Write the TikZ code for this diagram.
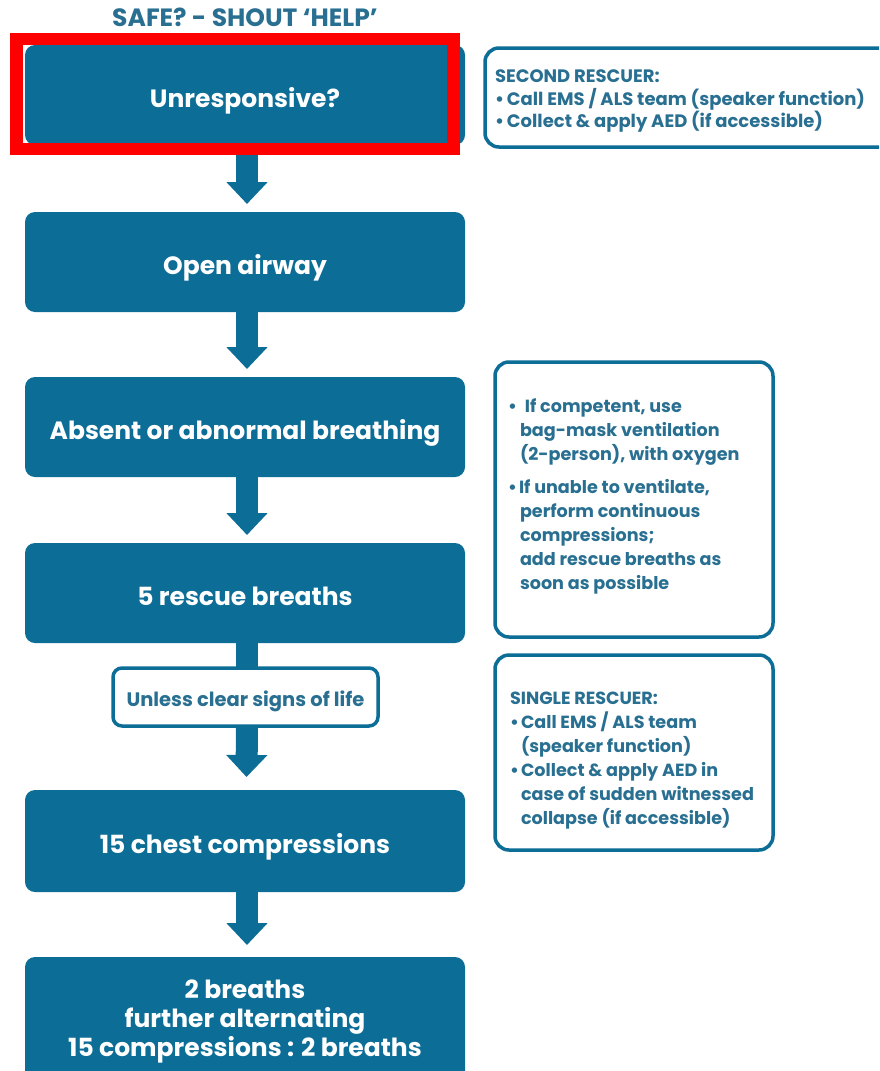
\documentclass[tikz,border=0pt]{standalone}
\usepackage{fontspec}
\setmainfont{Poppins}
\usetikzlibrary{arrows.meta,calc}
\definecolor{tealfill}{RGB}{12,109,150}
\definecolor{tealtxt}{RGB}{40,111,145}
\newcommand\bul[1]{\makebox[#1][l]{•}}
\newcommand\ind[1]{\hspace*{#1}}
\begin{document}
\begin{tikzpicture}[x=1pt,y=-1pt,
  every node/.style={outer sep=0pt},
  mainbox/.style={fill=tealfill, rounded corners=10pt, minimum width=440pt, minimum height=100pt,
    text=white, font=\bfseries\fontsize{25}{29}\selectfont, align=center, inner sep=0pt, anchor=north west},
  onelinetext/.style={text height=25pt, text depth=0pt},
  sidebox/.style={draw=tealfill, line width=3.5pt, rounded corners=14pt, fill=white, anchor=north west, inner sep=0pt},
  sidetext/.style={text=tealtxt, font=\bfseries\fontsize{17.6}{24}\selectfont, align=left, anchor=north west, inner sep=0pt},
  flowarrow/.style={draw=tealfill, line width=22pt, -{Triangle[width=40pt,length=22pt]}},
  stem/.style={draw=tealfill, line width=22pt},
]
\useasboundingbox (0,0) rectangle (879,1071);
\clip (0,0) rectangle (879,1071);

\node[text=tealtxt, font=\bfseries\fontsize{25}{28}\selectfont] (title) at (245,17) {SAFE? - SHOUT ‘HELP’};

\node[mainbox, onelinetext] (b1) at (25,45) {Unresponsive?};
\node[mainbox, onelinetext] (b2) at (25,212) {Open airway};
\node[mainbox, onelinetext] (b3) at (25,377) {Absent or abnormal breathing};
\node[mainbox, onelinetext] (b4) at (25,543) {5 rescue breaths};
\node[mainbox, onelinetext, minimum height=102pt] (b5) at (25,790) {15 chest compressions};
\node[mainbox, minimum height=128pt] (b6) at (25,957) {2 breaths\\further alternating\\15 compressions : 2 breaths};

\draw[flowarrow] ([xshift=2pt]b1.south) -- ([xshift=2pt,yshift=8pt]b2.north);
\draw[flowarrow] ([xshift=2pt]b2.south) -- ([xshift=2pt,yshift=8pt]b3.north);
\draw[flowarrow] ([xshift=2pt]b3.south) -- ([xshift=2pt,yshift=8pt]b4.north);

\coordinate (sbtop) at (247,668);
\draw[stem] ([xshift=2pt]b4.south) -- (sbtop);
\node[draw=tealfill, line width=3.5pt, rounded corners=9pt, fill=white, text=tealtxt,
  font=\bfseries\fontsize{19.5}{22}\selectfont, minimum width=265pt, minimum height=58pt,
  text height=19pt, text depth=0pt, anchor=north west] (sb) at (113,668) {Unless clear signs of life};
\draw[flowarrow] ([xshift=1.5pt]sb.south) -- ([xshift=1.5pt,yshift=13pt]b5.north);
\draw[flowarrow] ([xshift=2pt]b5.south) -- ([xshift=2pt,yshift=12pt]b6.north);

% second rescuer
\node[sidebox, minimum width=410pt, minimum height=99pt] (sa) at (485,48) {};
\node[sidetext, font=\bfseries\fontsize{18}{22.5}\selectfont] (saT) at (495,70)
  {SECOND RESCUER:\\ \bul{12pt}Call EMS / ALS team (speaker function)\\ \bul{12pt}Collect \& apply AED (if accessible)};

% ventilation box
\node[sidebox, minimum width=278pt, minimum height=275pt] (sbx) at (495,362) {};
\node[sidetext] (sbxT) at (508,399)
  {\bul{17pt}If competent, use\\ \ind{12pt}bag-mask ventilation\\ \ind{12pt}(2-person), with oxygen\\[9pt]
   \bul{11pt}If unable to ventilate,\\ \ind{12pt}perform continuous\\ \ind{12pt}compressions;\\ \ind{12pt}add rescue breaths as\\ \ind{12pt}soon as possible};

% single rescuer
\node[sidebox, minimum width=278pt, minimum height=195pt] (sc) at (495,655) {};
\node[sidetext] (scT) at (510,692)
  {SINGLE RESCUER:\\ \bul{11pt}Call EMS / ALS team\\ \ind{11pt}(speaker function)\\ \bul{11pt}Collect \& apply AED in\\ \ind{11pt}case of sudden witnessed\\ \ind{11pt}collapse (if accessible)};

\node[draw=red, line width=12.5pt, minimum width=437pt, minimum height=110pt, anchor=north west, inner sep=0pt] (hl) at (16.5,39) {};
\end{tikzpicture}
\end{document}
